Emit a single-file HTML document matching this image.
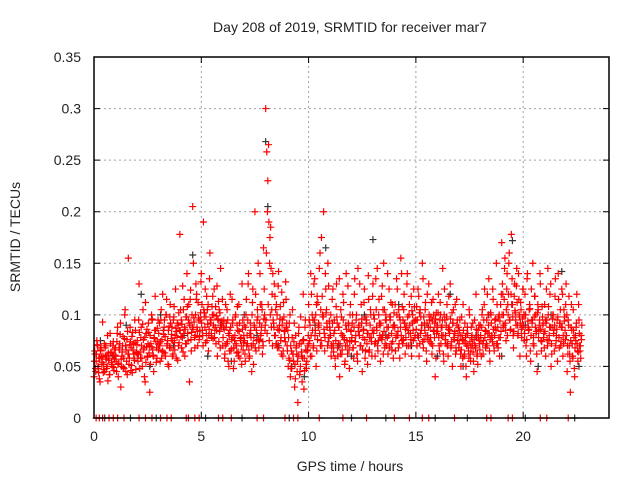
<!DOCTYPE html>
<html><head><meta charset="utf-8"><style>
body{margin:0;background:#fff;}
svg text{font-family:"Liberation Sans",sans-serif;font-size:14px;fill:#222;}
</style></head><body>
<svg id="chart" width="640" height="480" xmlns="http://www.w3.org/2000/svg">
<rect width="640" height="480" fill="#fff"/>
<g id="grid"></g>
<g id="marks"></g>
<g id="axes"></g>
<text x="350" y="32" text-anchor="middle">Day 208 of 2019, SRMTID for receiver mar7</text>
<text x="350" y="471" text-anchor="middle">GPS time / hours</text>
<text x="20" y="237" text-anchor="middle" transform="rotate(-90 20 237)">SRMTID / TECUs</text>
</svg>
<script>
const xTicks=[0,5,10,15,20];
const yTicks=[0,0.05,0.1,0.15,0.2,0.25,0.3,0.35];
const yTickLabels=["0","0.05","0.1","0.15","0.2","0.25","0.3","0.35"];
const redStep=0.05;
const redMilli=[
40,62,55,71,48,38,66,59,93,52,45,70,61,36,58,82,64,50,74,57,
68,45,88,53,72,30,60,79,48,105,66,42,155,58,74,51,83,62,95,47,
71,55,130,64,88,50,76,40,112,69,59,83,25,72,96,61,78,118,54,87,
66,92,74,58,120,81,63,100,70,52,89,110,77,60,95,73,125,84,56,102,
178,79,91,64,115,86,72,108,95,35,124,83,205,97,68,130,88,112,76,95,
140,85,190,102,73,118,91,80,160,95,108,77,125,88,99,60,113,84,145,92,
70,95,62,88,105,55,80,120,67,92,48,75,100,63,85,110,58,78,130,66,
90,55,115,72,140,60,85,45,125,78,200,65,95,150,75,110,88,62,165,100,
300,258,230,190,175,145,120,95,130,80,110,68,142,90,75,122,60,98,85,115,
70,50,92,40,65,105,55,30,80,62,15,88,45,72,35,120,58,95,48,66,
110,75,140,60,95,130,80,50,118,88,145,70,175,100,200,65,125,92,150,78,
85,60,115,72,95,50,130,68,88,40,105,62,120,78,55,140,70,92,48,110,
75,100,58,135,80,62,145,90,70,110,45,85,125,65,95,52,115,78,100,60,
130,85,60,105,145,75,92,55,118,80,150,68,100,88,62,125,95,72,110,58,
90,65,135,80,105,58,155,75,95,120,62,88,140,70,110,82,60,100,125,78,
95,70,125,60,105,85,150,68,92,112,55,80,130,74,98,62,115,85,40,102,
90,120,65,100,80,145,55,95,72,110,60,88,130,70,50,105,82,62,115,75,
68,95,50,80,110,60,72,40,88,65,100,55,78,92,45,70,120,60,85,75,
90,60,105,75,125,68,95,82,135,55,100,78,115,65,88,150,72,98,60,110,
170,120,90,155,75,140,100,160,85,178,110,68,130,95,145,80,115,60,105,88,
125,75,100,60,140,85,110,55,95,150,70,118,82,45,105,90,130,65,98,78,
110,60,95,145,75,120,50,88,100,65,135,80,55,115,92,70,125,60,105,85,
130,45,95,70,25,110,60,85,40,75,120,55,95,65,80];
const redMilli2=[
55,48,62,70,44,58,65,52,60,47,68,57,50,63,42,72,54,61,49,66,
60,74,52,68,81,57,64,49,77,70,55,84,62,71,46,79,66,58,73,63,
75,62,83,58,70,91,66,78,54,86,72,63,80,69,95,60,77,85,68,74,
82,70,95,76,64,88,79,100,72,85,68,92,81,75,98,66,87,78,90,73,
85,95,78,105,88,72,98,82,110,90,76,100,86,93,80,115,84,97,79,102,
92,80,105,88,98,75,110,86,95,82,100,90,78,108,85,96,74,102,88,94,
78,86,70,92,74,82,65,88,76,95,68,80,72,90,64,84,77,70,86,73,
75,88,70,95,66,82,78,100,72,90,68,85,105,76,92,80,110,74,96,85,
95,82,110,75,100,88,70,92,80,105,72,86,68,96,78,90,65,84,74,88,
65,78,56,70,48,62,74,52,68,45,60,72,50,64,58,76,46,66,55,70,
72,90,80,100,68,95,85,110,76,92,82,105,70,98,86,78,102,88,74,94,
80,70,92,64,85,75,98,60,88,72,82,66,95,76,70,86,62,90,74,84,
78,68,88,74,95,62,84,80,70,92,66,86,76,98,72,82,64,90,78,85,
82,96,74,88,70,100,80,92,76,105,84,72,95,78,88,68,98,82,74,90,
88,78,100,84,72,95,80,108,76,92,86,70,98,82,90,76,104,85,94,80,
86,95,78,102,82,90,74,98,85,80,92,76,100,88,72,94,84,78,96,82,
84,78,95,72,88,80,100,76,90,70,86,82,96,74,92,78,84,68,90,80,
72,80,66,76,85,62,78,70,82,58,74,68,80,64,76,70,86,62,78,72,
80,88,72,95,78,84,70,100,82,76,92,74,86,80,96,72,88,78,94,84,
100,88,115,92,105,80,120,95,86,110,98,84,104,90,112,82,100,92,86,96,
90,82,100,76,94,86,106,80,92,72,98,88,84,102,78,95,86,74,90,82,
84,92,76,100,80,88,72,96,82,90,70,86,98,78,92,74,88,80,94,76,
80,70,90,62,75,85,58,78,68,88,72,64,82,70,76];
const redMilli3=[
65,45,75,50,58,35,68,54,44,72,60,48,80,56,42,63,52,70,46,61,
55,82,40,66,92,50,70,58,100,45,76,62,52,88,68,44,72,56,85,64,
62,95,48,78,58,105,68,35,82,60,92,70,52,100,66,45,85,74,58,95,
72,55,105,65,85,95,60,115,75,50,98,68,88,62,108,80,58,92,70,85,
105,68,128,82,60,98,140,75,92,115,65,88,150,78,100,120,70,95,85,132,
110,70,98,125,82,105,65,135,92,78,118,100,85,72,128,95,105,68,90,115,
88,58,110,72,95,50,85,65,115,78,55,98,70,108,60,92,75,52,95,80,
62,100,80,130,58,92,70,112,52,88,120,75,98,68,140,82,105,70,125,90,
160,200,265,150,185,105,140,88,118,72,100,128,85,108,62,95,112,78,132,92,
85,58,100,48,78,62,92,38,70,55,82,42,98,60,75,28,88,52,65,80,
95,60,120,85,70,135,100,65,112,90,160,75,118,98,82,140,105,70,128,88,
100,68,125,82,58,108,92,72,135,62,98,80,112,52,90,75,128,66,100,85,
92,68,120,74,100,55,88,130,70,96,78,112,58,92,82,138,66,105,74,118,
100,72,135,85,65,115,90,78,128,62,105,95,70,140,80,98,112,66,88,102,
110,80,125,68,98,88,140,72,105,92,78,130,85,100,70,118,92,75,108,95,
108,80,118,72,98,90,135,76,105,65,120,88,95,78,112,70,100,92,58,88,
102,70,112,88,95,62,125,80,98,72,118,85,68,102,92,76,110,65,95,88,
85,62,98,58,75,92,50,82,70,105,62,88,72,55,95,68,80,52,90,66,
75,100,62,110,85,72,120,90,65,102,80,125,70,95,85,110,68,100,78,120,
130,100,145,85,125,110,150,95,120,135,80,118,102,128,90,140,98,112,78,125,
100,120,70,135,88,105,65,125,95,78,118,100,62,110,85,140,75,108,92,68,
95,125,70,108,88,130,62,100,85,118,75,95,140,68,105,88,120,72,98,110,
100,62,118,55,88,72,105,48,80,92,65,110,70,58,90];
const blackHours=[0.3,0.9,1.5,2.2,2.6,3.1,3.7,4.2,4.6,5.3,5.9,6.4,7.0,7.6,8.0,8.1,8.6,9.2,9.8,10.3,10.8,11.4,12.0,12.6,13.0,13.6,14.2,14.8,15.4,16.0,16.6,17.2,17.8,18.4,19.0,19.5,20.1,20.7,21.3,21.8,22.3,22.6];
const blackValues=[0.075,0.06,0.09,0.12,0.05,0.1,0.07,0.08,0.158,0.06,0.09,0.055,0.1,0.08,0.268,0.205,0.07,0.05,0.04,0.09,0.165,0.07,0.06,0.1,0.173,0.08,0.11,0.07,0.09,0.06,0.12,0.05,0.08,0.1,0.06,0.172,0.09,0.05,0.1,0.142,0.06,0.05];
const redZeroHours=[0.1,0.25,0.4,0.7,0.9,1.1,1.4,2.1,2.4,2.7,3.1,3.4,3.6,4.3,4.4,4.7,4.9,5.8,6.0,6.4,7.6,7.9,8.9,9.3,9.5,10.5,11.6,12.7,14.0,14.7,15.3,15.6,16.8,18.3,18.5,19.3,19.5,20.8,21.1,22.1];
const blackZeroHours=[0.5,1.7,2.9,5.2,6.9,9.1,12.0,13.6,15.9,17.4,20.1,22.4];

const X0=94,X1=609,Y0=418,Y1=57,XMAX=24,YMAX=0.35;
const xs=h=>X0+h/XMAX*(X1-X0);
const ys=v=>Y0-v/YMAX*(Y0-Y1);
const NS="http://www.w3.org/2000/svg";
function mk(tag,attrs,parent){const e=document.createElementNS(NS,tag);for(const k in attrs)e.setAttribute(k,attrs[k]);parent.appendChild(e);return e;}
const grid=document.getElementById('grid'),marks=document.getElementById('marks'),axes=document.getElementById('axes');
xTicks.forEach(t=>{const x=xs(t);
 if(t>0){const g=mk('line',{x1:x,y1:Y0,x2:x,y2:Y1,stroke:'#a0a0a0','stroke-dasharray':'2,3'},grid);
 
 }
 const tk=mk('path',{d:`M${x},${Y0}v-6M${x},${Y1}v6`,stroke:'#000'},axes);
 
 
 const l=mk('text',{x:x,y:Y0+23,'text-anchor':'middle'},axes);l.textContent=t;
 
 });
yTicks.forEach((t,i)=>{const y=ys(t);
 if(t>0&&t<YMAX){const g=mk('line',{x1:X0,y1:y,x2:X1,y2:y,stroke:'#a0a0a0','stroke-dasharray':'2,3'},grid);
 
 }
 const tk=mk('path',{d:`M${X0},${y}h6M${X1},${y}h-6`,stroke:'#000'},axes);
 
 
 const l=mk('text',{x:X0-13,y:y+5,'text-anchor':'end'},axes);l.textContent=yTickLabels[i];
 
 });
const fr=mk('rect',{x:X0,y:Y1,width:X1-X0,height:Y0-Y1,fill:'none',stroke:'#000','stroke-width':1.5},axes);


function plus(h,v,color,name){const x=xs(h),y=ys(v);
 const p=mk('path',{d:`M${x-3.5},${y}h7M${x},${y-3.5}v7`,stroke:color,'stroke-width':1.2},marks);
 
 }
blackHours.forEach((h,i)=>plus(h,blackValues[i],'#333','black-point'));
redMilli.forEach((m,i)=>plus(i*redStep,m/1000,'#f00','red-point'));
redMilli2.forEach((m,i)=>plus(i*redStep+0.017,m/1000,'#f00','red-point'));
redMilli3.forEach((m,i)=>plus(i*redStep+0.033,m/1000,'#f00','red-point'));
blackZeroHours.forEach(h=>plus(h,0,'#333','black-zero-point'));
redZeroHours.forEach(h=>plus(h,0,'#f00','red-zero-point'));
</script>
</body></html>
